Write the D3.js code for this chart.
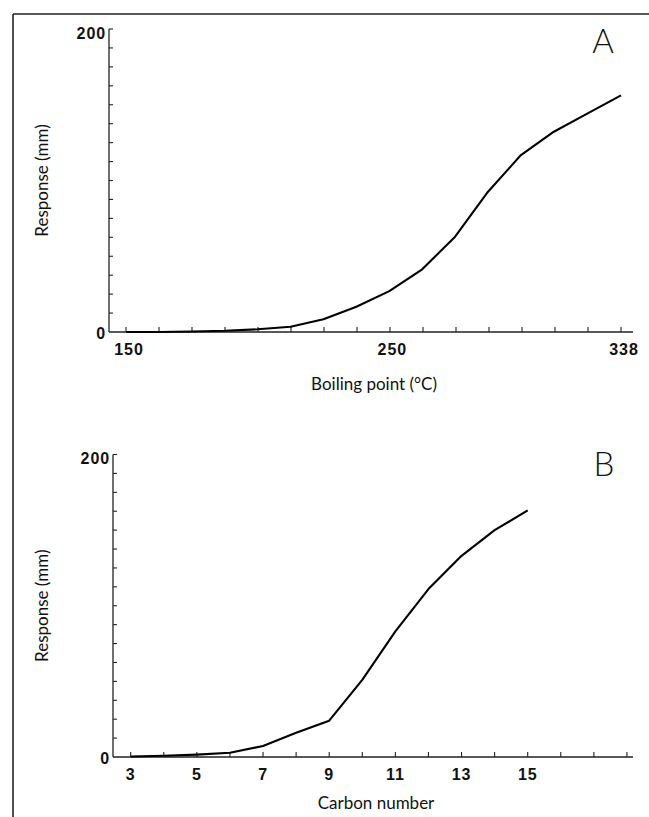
<!DOCTYPE html>
<html>
<head>
<meta charset="utf-8">
<script src="https://cdn.jsdelivr.net/npm/d3@7"></script>
<style>
  html, body { margin: 0; padding: 0; background: #fff; }
  svg { display: block; }
  .num { font-family: "Liberation Sans", Arial, sans-serif; font-weight: bold; font-size: 16px; fill: #111; letter-spacing: 0.9px; }
  .title { font-family: Lato, "Open Sans", sans-serif; font-size: 17px; fill: #111; }
  .panel { font-family: Lato, "Open Sans", sans-serif; font-weight: 300; font-size: 33px; fill: #111; }
</style>
</head>
<body>
<script>
// ---- Data ----
// Panel A: response vs boiling point
const boilingPoints = [150, 162.5, 175, 187.5, 200, 212.5, 225, 237.5, 250, 262.5, 275, 287.5, 300, 312.5, 325, 338];
const responseA     = [0, 0, 0.3, 0.8, 1.8, 3.5, 8.4, 16.7, 27, 41.4, 62.9, 92.6, 116.8, 132.2, 144, 156.2];
const boilingTickLabels = [150, 250, 338];
// Panel B: response vs carbon number
const carbonNumbers = [3, 4, 5, 6, 7, 8, 9, 10, 11, 12, 13, 14, 15];
const responseB     = [0.3, 0.8, 1.6, 2.8, 7.3, 16, 24, 51, 83, 111, 133, 150, 163];
const carbonTicks = [3, 4, 5, 6, 7, 8, 9, 10, 11, 12, 13, 14, 15, 16, 17, 18];
const carbonTickLabels = [3, 5, 7, 9, 11, 13, 15];
const responseTicks = d3.range(12.5, 200.1, 12.5);
const responseTickLabels = [0, 200];

const W = 649, H = 817;
const svg = d3.select("body").append("svg").attr("width", W).attr("height", H);

// frame lines (top and left)
svg.append("line").attr("x1", 13).attr("y1", 14).attr("x2", W).attr("y2", 14)
  .attr("stroke", "#222").attr("stroke-width", 1.6);
svg.append("line").attr("x1", 13).attr("y1", 14).attr("x2", 13).attr("y2", H)
  .attr("stroke", "#222").attr("stroke-width", 1.6);

function panel(opts) {
  const g = svg.append("g");
  const x = opts.x, y = opts.y;
  const x0 = opts.axisX, xEnd = opts.axisEnd;
  const yb = y(0), yt = y(200);

  // axes lines
  g.append("line").attr("x1", x0).attr("y1", yb).attr("x2", x0).attr("y2", yt)
    .attr("stroke", "#222").attr("stroke-width", 1.3);
  g.append("line").attr("x1", x0).attr("y1", yb).attr("x2", xEnd).attr("y2", yb)
    .attr("stroke", "#222").attr("stroke-width", 1.3);

  // y ticks (inside, pointing right)
  g.selectAll(".yt").data(responseTicks).enter().append("line")
    .attr("x1", x0).attr("x2", x0 + 4)
    .attr("y1", d => y(d)).attr("y2", d => y(d))
    .attr("stroke", "#222").attr("stroke-width", 1.1);
  // x ticks (inside, pointing up)
  g.selectAll(".xt").data(opts.xticks).enter().append("line")
    .attr("x1", d => x(d)).attr("x2", d => x(d))
    .attr("y1", yb).attr("y2", yb - 5)
    .attr("stroke", "#222").attr("stroke-width", 1.1);

  // y labels
  g.selectAll(".yl").data(responseTickLabels).enter().append("text")
    .attr("class", "num")
    .attr("x", x0 - 3)
    .attr("y", d => y(d) + (d === 0 ? 1 : 4))
    .attr("dy", "0.35em")
    .attr("text-anchor", "end")
    .text(d => d);

  // x labels
  g.selectAll(".xl").data(opts.xlabels).enter().append("text")
    .attr("class", "num")
    .attr("x", d => x(d) + (opts.labelShift || 0))
    .attr("y", yb + 23)
    .attr("text-anchor", "middle")
    .text(d => d);

  // curve
  const line = d3.line().x(d => x(d[0])).y(d => y(d[1]));
  g.append("path").datum(d3.zip(opts.xs, opts.ys))
    .attr("d", line).attr("fill", "none")
    .attr("stroke", "#000").attr("stroke-width", 2.1)
    .attr("stroke-linejoin", "round");

  // titles
  g.append("text").attr("class", "title")
    .attr("x", opts.titleX).attr("y", yb + opts.titleDy)
    .attr("text-anchor", "middle").text(opts.xtitle);
  g.append("text").attr("class", "title")
    .attr("transform", `translate(48,${(yb + yt) / 2}) rotate(-90)`)
    .attr("text-anchor", "middle").text("Response (mm)");

  g.append("text").attr("class", "panel")
    .attr("x", opts.letterX).attr("y", yt + opts.letterDy)
    .attr("text-anchor", "middle").text(opts.letter);
}

const xA = d3.scaleLinear().domain([150, 338]).range([126, 621]);
const yA = d3.scaleLinear().domain([0, 200]).range([332, 29]);
panel({
  x: xA, y: yA, axisX: 109, axisEnd: 633,
  xticks: d3.range(16).map(i => 150 + i * (338 - 150) / 15),
  xlabels: boilingTickLabels, labelShift: 3,
  xs: boilingPoints, ys: responseA,
  xtitle: "Boiling point (°C)", titleX: 374, titleDy: 58,
  letter: "A", letterX: 603, letterDy: 24
});

const xB = d3.scaleLinear().domain([3, 15]).range([130.7, 527.7]);
const yB = d3.scaleLinear().domain([0, 200]).range([757, 454.5]);
panel({
  x: xB, y: yB, axisX: 113, axisEnd: 633,
  xticks: carbonTicks,
  xlabels: carbonTickLabels, labelShift: 0,
  xs: carbonNumbers, ys: responseB,
  xtitle: "Carbon number", titleX: 376, titleDy: 52,
  letter: "B", letterX: 604, letterDy: 21
});
</script>
</body>
</html>
